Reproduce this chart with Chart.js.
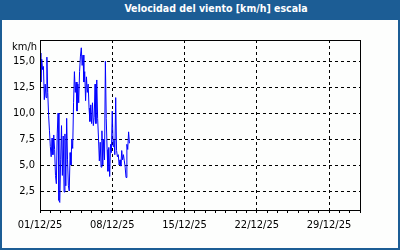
<!DOCTYPE html>
<html>
<head>
<meta charset="utf-8">
<script src="https://cdn.jsdelivr.net/npm/chart.js@4.4.1/dist/chart.umd.min.js"></script>
<style>
  body { margin: 0; background: #fff; }
  #frame { width: 400px; height: 250px; box-sizing: border-box; border: 2px solid #1c5d95; background: #fdfefd; }
  #title { height: 18px; line-height: 17px; background: #1c5d95; color: #fff; font: bold 10.5px "DejaVu Sans Condensed", "DejaVu Sans", sans-serif; text-align: center; padding-left: 32px; }
  canvas { display: block; }
</style>
</head>
<body>
<div id="frame">
  <div id="title">Velocidad del viento [km/h] escala</div>
  <canvas id="windChart" width="396" height="228"></canvas>
</div>
<script>
// wind speed every 2 hours from 01/12/25 00:00
const windKmh = [
  15.8, 13.0, 15.2, 14.2, 14.5, 11.3, 12.8, 11.5, 15.4, 12.0,
  9.8, 8.3, 6.8, 5.8, 7.6, 6.0, 7.9, 6.5, 4.0, 3.2,
  8.0, 10.0, 1.6, 1.4, 5.5, 8.8, 4.0, 7.8, 2.4, 8.0,
  3.0, 9.5, 5.5, 3.0, 2.5, 6.2, 5.0, 7.5, 6.6, 11.0,
  14.0, 12.0, 13.0, 10.2, 12.8, 11.0, 14.0, 15.5, 16.3, 14.6,
  15.6, 13.0, 14.0, 11.2, 13.5, 12.0, 12.8, 10.5, 9.2, 10.8,
  9.0, 11.0, 8.8, 9.6, 12.8, 9.0, 13.2, 9.5, 7.6, 5.4,
  7.2, 4.8, 8.3, 5.0, 7.5, 5.5, 15.0, 9.5, 6.5, 4.4,
  6.7, 3.9, 7.0, 6.2, 10.2, 6.8, 7.4, 6.0, 11.5, 6.4,
  5.8, 6.0, 5.0, 5.5, 4.9, 6.4, 5.5, 6.0, 5.4, 4.8,
  3.8, 7.0, 6.5, 8.2, 7.1
];
const stepDays = 2 / 24;

const yTicks = [2.5, 5, 7.5, 10, 12.5, 15];
const xTickDays = [0, 7, 14, 21, 28];
const xTickLabels = ["01/12/25", "08/12/25", "15/12/25", "22/12/25", "29/12/25"];
const daysInView = 31;

const points = windKmh.map((v, i) => ({ x: i * stepDays, y: v }));

const axisFont = { family: "'DejaVu Sans Condensed', 'DejaVu Sans', sans-serif", size: 11 };

// box round the plot and the unit label
const framePlugin = {
  id: 'frame',
  afterDraw(chart) {
    const ctx = chart.ctx;
    const a = chart.chartArea;
    ctx.save();
    ctx.strokeStyle = '#000';
    ctx.lineWidth = 1;
    ctx.strokeRect(Math.round(a.left) + 0.5, Math.round(a.top) + 0.5, Math.round(a.right - a.left), Math.round(a.bottom - a.top));
    ctx.fillStyle = '#000';
    ctx.font = "11px 'DejaVu Sans Condensed', 'DejaVu Sans', sans-serif";
    ctx.textAlign = 'right';
    ctx.textBaseline = 'middle';
    ctx.fillText('km/h', 35, 27);
    ctx.restore();
  }
};

new Chart(document.getElementById('windChart'), {
  type: 'line',
  data: {
    datasets: [{
      data: points,
      borderColor: '#0000ff',
      borderWidth: 1,
      pointRadius: 0,
      tension: 0,
      fill: false
    }]
  },
  options: {
    responsive: false,
    animation: false,
    layout: { padding: { left: 0, top: 20, right: 38, bottom: 0 } },
    plugins: { legend: { display: false }, tooltip: { enabled: false }, title: { display: false } },
    scales: {
      x: {
        type: 'linear',
        min: 0,
        max: daysInView,
        afterBuildTicks: (scale) => {
          const t = [];
          for (let d = 0; d <= daysInView; d++) t.push({ value: d });
          scale.ticks = t;
        },
        afterFit: (scale) => { scale.height = 38; },
        ticks: {
          autoSkip: false,
          maxRotation: 0,
          padding: 6,
          color: '#000',
          font: axisFont,
          callback: (value) => {
            const k = xTickDays.indexOf(value);
            return k >= 0 ? xTickLabels[k] : '';
          }
        },
        grid: {
          color: (c) => (c.tick && xTickDays.includes(c.tick.value) && c.tick.value !== 0) ? '#000' : 'rgba(0,0,0,0)',
          tickColor: '#000',
          tickLength: 3,
          lineWidth: 1
        },
        border: { display: true, color: '#000', width: 1, dash: [3, 3] }
      },
      y: {
        min: 0.67,
        max: 17.05,
        afterBuildTicks: (scale) => { scale.ticks = yTicks.map(v => ({ value: v })); },
        afterFit: (scale) => { scale.width = 38; },
        ticks: {
          padding: 5,
          color: '#000',
          font: axisFont,
          callback: (value) => value.toFixed(1).replace('.', ',')
        },
        grid: { color: '#000', drawTicks: false, lineWidth: 1 },
        border: { display: true, color: '#000', width: 1, dash: [3, 3] }
      }
    }
  },
  plugins: [framePlugin]
});
</script>
</body>
</html>
